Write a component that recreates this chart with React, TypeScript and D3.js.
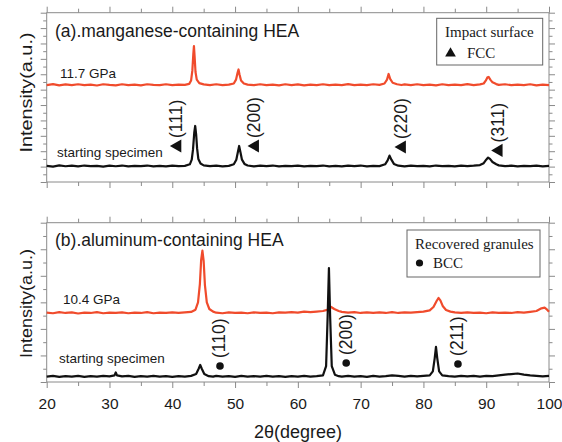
import React, { useEffect, useRef } from "react";
import * as d3 from "d3";

// 2θ axis ticks
const xTicks = [20, 30, 40, 50, 60, 70, 80, 90, 100];
const xMinorTicks = [25, 35, 45, 55, 65, 75, 85, 95];

// (a) manganese-containing HEA  -- intensity a.u., panel spans 0..22
const mnImpact = [
  [20, 12.6], [21, 12.72], [22, 12.55], [23, 12.68], [24, 12.58], [25, 12.7], [26, 12.6], [27, 12.66],
  [28, 12.54], [29, 12.7], [30, 12.62], [31, 12.56], [32, 12.7], [33, 12.6], [34, 12.66], [35, 12.55],
  [36, 12.7], [37, 12.62], [38, 12.58], [39, 12.7], [40, 12.6], [41, 12.66], [42, 12.62], [42.7, 12.75],
  [43.0, 13.2], [43.2, 14.5], [43.35, 16.6], [43.45, 17.67], [43.55, 16.4], [43.7, 14.3], [43.9, 13.3],
  [44.3, 12.85], [45, 12.68], [46, 12.6], [47, 12.7], [48, 12.58], [49, 12.66], [49.8, 12.8], [50.15, 13.3],
  [50.4, 14.2], [50.55, 14.62], [50.7, 14.0], [50.95, 13.2], [51.4, 12.8], [52, 12.66], [53, 12.58],
  [54, 12.7], [55, 12.6], [56, 12.66], [57, 12.56], [58, 12.7], [59, 12.6], [60, 12.68], [61, 12.56],
  [62, 12.66], [63, 12.6], [64, 12.7], [65, 12.58], [66, 12.66], [67, 12.6], [68, 12.72], [69, 12.58],
  [70, 12.66], [71, 12.6], [72, 12.7], [73, 12.62], [73.8, 12.8], [74.2, 13.3], [74.45, 14.04], [74.7, 13.4],
  [75.1, 12.9], [75.8, 12.7], [76.5, 12.6], [77, 12.68], [78, 12.58], [79, 12.7], [80, 12.6], [81, 12.66],
  [82, 12.56], [83, 12.7], [84, 12.6], [85, 12.66], [86, 12.58], [87, 12.72], [88, 12.6], [89, 12.68],
  [89.6, 12.8], [89.95, 13.2], [90.2, 13.6], [90.4, 13.65], [90.65, 13.3], [91.0, 12.95], [91.6, 12.72],
  [92, 12.62], [93, 12.7], [94, 12.58], [95, 12.66], [96, 12.6], [97, 12.7], [98, 12.56], [99, 12.66], [100, 12.6],
];
const mnStart = [
  [20, 2.1], [21, 2.0], [22, 2.15], [23, 2.05], [24, 2.12], [25, 2.02], [26, 2.14], [27, 2.06], [28, 2.1],
  [29, 2.0], [30, 2.12], [31, 2.05], [32, 2.14], [33, 2.02], [34, 2.1], [35, 2.06], [36, 2.14], [37, 2.04],
  [38, 2.1], [39, 2.02], [40, 2.12], [41, 2.06], [42, 2.1], [42.8, 2.3], [43.1, 2.9], [43.3, 4.2], [43.5, 6.4],
  [43.65, 7.28], [43.8, 6.2], [43.95, 4.4], [44.15, 3.0], [44.5, 2.4], [45, 2.16], [46, 2.06], [47, 2.12],
  [48, 2.04], [49, 2.1], [49.8, 2.3], [50.2, 2.9], [50.45, 3.9], [50.65, 4.68], [50.85, 3.9], [51.1, 2.9],
  [51.5, 2.35], [52, 2.14], [53, 2.04], [54, 2.12], [55, 2.06], [56, 2.14], [57, 2.02], [58, 2.1], [59, 2.06],
  [60, 2.12], [61, 2.04], [62, 2.1], [63, 2.06], [64, 2.14], [65, 2.04], [66, 2.1], [67, 2.02], [68, 2.12],
  [69, 2.06], [70, 2.14], [71, 2.04], [72, 2.1], [73, 2.06], [73.9, 2.3], [74.3, 2.8], [74.6, 3.43], [74.9, 2.9],
  [75.3, 2.35], [76, 2.12], [77, 2.04], [78, 2.12], [79, 2.06], [80, 2.1], [81, 2.02], [82, 2.14], [83, 2.06],
  [84, 2.1], [85, 2.04], [86, 2.12], [87, 2.06], [88, 2.12], [89, 2.2], [89.6, 2.45], [90.0, 2.9], [90.3, 3.17],
  [90.6, 3.0], [91.0, 2.6], [91.6, 2.3], [92, 2.16], [93, 2.06], [94, 2.12], [95, 2.04], [96, 2.1], [97, 2.06],
  [98, 2.12], [99, 2.04], [100, 2.1],
];

// (b) aluminum-containing HEA  -- panel spans 0..12
const alImpact = [
  [20, 5.22], [21, 5.18], [22, 5.26], [23, 5.2], [24, 5.24], [25, 5.16], [26, 5.22], [27, 5.2], [28, 5.26],
  [29, 5.18], [30, 5.22], [31, 5.2], [32, 5.24], [33, 5.18], [34, 5.22], [35, 5.2], [36, 5.26], [37, 5.18],
  [38, 5.22], [39, 5.2], [40, 5.24], [41, 5.2], [42, 5.24], [43, 5.28], [43.7, 5.45], [44.1, 6.0], [44.4, 7.4],
  [44.6, 9.2], [44.8, 9.89], [45.0, 9.1], [45.2, 7.3], [45.5, 6.0], [45.9, 5.5], [46.5, 5.3], [47, 5.22],
  [48, 5.18], [49, 5.24], [50, 5.2], [51, 5.22], [52, 5.18], [53, 5.24], [54, 5.2], [55, 5.22], [56, 5.18],
  [57, 5.24], [58, 5.22], [59, 5.26], [60, 5.22], [61, 5.3], [62, 5.26], [63, 5.3], [64, 5.35], [64.8, 5.45],
  [65.3, 5.65], [65.8, 5.5], [66.5, 5.35], [67, 5.28], [68, 5.22], [69, 5.26], [70, 5.2], [71, 5.24], [72, 5.2],
  [73, 5.24], [74, 5.2], [75, 5.26], [76, 5.2], [77, 5.24], [78, 5.22], [79, 5.26], [80, 5.3], [81, 5.4],
  [81.6, 5.65], [82.1, 6.1], [82.4, 6.33], [82.7, 6.15], [83.1, 5.7], [83.6, 5.42], [84.3, 5.3], [85, 5.24],
  [86, 5.2], [87, 5.24], [88, 5.2], [89, 5.22], [90, 5.18], [91, 5.24], [92, 5.2], [93, 5.22], [94, 5.2],
  [95, 5.26], [96, 5.22], [97, 5.28], [98, 5.35], [98.8, 5.55], [99.3, 5.6], [99.7, 5.45], [100, 5.3],
];
const alStart = [
  [20, 0.4], [21, 0.46], [22, 0.38], [23, 0.44], [24, 0.4], [25, 0.46], [26, 0.38], [27, 0.44], [28, 0.4],
  [29, 0.46], [30, 0.42], [30.8, 0.5], [31.0, 0.72], [31.2, 0.5], [32, 0.42], [33, 0.46], [34, 0.38], [35, 0.44],
  [36, 0.4], [37, 0.46], [38, 0.4], [39, 0.44], [40, 0.38], [41, 0.44], [42, 0.4], [43, 0.46], [43.8, 0.6],
  [44.2, 1.0], [44.45, 1.28], [44.7, 1.0], [45.1, 0.6], [45.8, 0.44], [46.5, 0.4], [47, 0.46], [48, 0.4],
  [49, 0.44], [50, 0.38], [51, 0.46], [52, 0.4], [53, 0.44], [54, 0.4], [55, 0.46], [56, 0.4], [57, 0.44],
  [58, 0.38], [59, 0.44], [60, 0.4], [61, 0.46], [62, 0.4], [63, 0.44], [64.0, 0.5], [64.5, 1.2], [64.75, 5.0],
  [64.95, 8.58], [65.15, 4.8], [65.4, 1.2], [65.9, 0.55], [66.5, 0.44], [67, 0.4], [68, 0.46], [69, 0.4],
  [70, 0.44], [71, 0.38], [72, 0.46], [73, 0.4], [74, 0.44], [75, 0.5], [76, 0.46], [77, 0.4], [78, 0.46],
  [79, 0.42], [80, 0.46], [81, 0.5], [81.5, 0.8], [81.8, 1.8], [82.0, 2.64], [82.2, 1.8], [82.5, 0.8], [83, 0.5],
  [84, 0.44], [85, 0.4], [86, 0.46], [87, 0.42], [88, 0.46], [89, 0.4], [90, 0.46], [91, 0.44], [92, 0.5],
  [93, 0.56], [94, 0.6], [95, 0.64], [96, 0.56], [97, 0.5], [98, 0.46], [99, 0.42], [100, 0.46],
];

// peak index labels (marker position in 2θ / intensity units)
const fccLabels = [
  { hkl: "(111)", twoTheta: 40.83, level: 4.68 },
  { hkl: "(200)", twoTheta: 53.2, level: 4.68 },
  { hkl: "(220)", twoTheta: 76.6, level: 4.55 },
  { hkl: "(311)", twoTheta: 92.0, level: 4.1 },
];
const bccLabels = [
  { hkl: "(110)", twoTheta: 47.6, level: 1.2 },
  { hkl: "(200)", twoTheta: 67.7, level: 1.43 },
  { hkl: "(211)", twoTheta: 85.5, level: 1.36 },
];

const RED = "#f04b2c";
const INK = "#111";
const FRAME = "#8a8a8a";
const SANS = "'Liberation Sans', Arial, Helvetica, sans-serif";
const SERIF = "'Liberation Serif', 'Times New Roman', serif";

const App = () => {
  const ref = useRef(null);

  useEffect(() => {
    const svg = d3.select(ref.current);
    svg.selectAll("*").remove();

    const x = d3.scaleLinear().domain([20, 100]).range([46.7, 549]);
    const yTop = d3.scaleLinear().domain([0, 22]).range([182, 12.7]);
    const yBot = d3.scaleLinear().domain([0, 12]).range([382, 222.7]);

    const drawFrame = (y, yMax, labels) => {
      const g = svg.append("g");
      const [x0, x1] = x.range();
      const yb = y(0);
      const yt = y(yMax);

      const styleAxis = (sel) => {
        sel.select(".domain").remove();
        sel.selectAll(".tick line").attr("stroke", FRAME);
      };

      // x ticks, bottom and top
      g.append("g").attr("transform", `translate(0,${yb})`)
        .call(d3.axisBottom(x).tickValues(xTicks).tickSize(6).tickPadding(10)
          .tickFormat(labels ? d3.format("d") : () => ""))
        .call(styleAxis)
        .call((a) => a.selectAll("text").attr("font-size", 15.5).attr("font-family", SANS).attr("fill", "#1a1a1a"));
      g.append("g").attr("transform", `translate(0,${yb})`)
        .call(d3.axisBottom(x).tickValues(xMinorTicks).tickSize(4).tickFormat(() => ""))
        .call(styleAxis);
      g.append("g").attr("transform", `translate(0,${yt})`)
        .call(d3.axisTop(x).tickValues(xTicks).tickSize(6).tickFormat(() => ""))
        .call(styleAxis);
      g.append("g").attr("transform", `translate(0,${yt})`)
        .call(d3.axisTop(x).tickValues(xMinorTicks).tickSize(4).tickFormat(() => ""))
        .call(styleAxis);

      // y ticks, left and right (no labels)
      const major = d3.range(0, yMax + 1, 2);
      const minor = d3.range(1, yMax, 2);
      g.append("g").attr("transform", `translate(${x0},0)`)
        .call(d3.axisLeft(y).tickValues(major).tickSize(6).tickFormat(() => "")).call(styleAxis);
      g.append("g").attr("transform", `translate(${x0},0)`)
        .call(d3.axisLeft(y).tickValues(minor).tickSize(3.5).tickFormat(() => "")).call(styleAxis);
      g.append("g").attr("transform", `translate(${x1},0)`)
        .call(d3.axisRight(y).tickValues(major).tickSize(6).tickFormat(() => "")).call(styleAxis);
      g.append("g").attr("transform", `translate(${x1},0)`)
        .call(d3.axisRight(y).tickValues(minor).tickSize(3.5).tickFormat(() => "")).call(styleAxis);

      g.append("rect")
        .attr("x", x0).attr("y", yt)
        .attr("width", x1 - x0).attr("height", yb - yt)
        .attr("fill", "none").attr("stroke", FRAME).attr("stroke-width", 1);
    };

    const drawPattern = (y, data, color) => {
      const line = d3.line().x((d) => x(d[0])).y((d) => y(d[1]));
      svg.append("path")
        .datum(data)
        .attr("d", line)
        .attr("fill", "none")
        .attr("stroke", color)
        .attr("stroke-width", 2.2)
        .attr("stroke-linejoin", "round");
    };

    const text = (tx, ty, str, size, opts = {}) =>
      svg.append("text")
        .attr("x", tx).attr("y", ty)
        .attr("font-family", opts.family || SANS)
        .attr("font-size", size)
        .attr("fill", opts.fill || "#1a1a1a")
        .attr("text-anchor", opts.anchor || "start")
        .text(str);

    // ---------- panel (a)
    drawFrame(yTop, 22, false);
    drawPattern(yTop, mnImpact, RED);
    drawPattern(yTop, mnStart, INK);

    text(55, 37, "(a).manganese-containing HEA", 17.5);
    text(60, 78, "11.7 GPa", 13.5);
    text(57, 157, "starting specimen", 13.5);

    fccLabels.forEach((d) => {
      const g = svg.append("g")
        .attr("transform", `translate(${x(d.twoTheta)},${yTop(d.level)}) rotate(-90)`);
      g.append("path")
        .attr("d", d3.symbol(d3.symbolTriangle, 75)())
        .attr("fill", INK);
      g.append("text")
        .attr("x", 8).attr("y", 5)
        .attr("font-family", SANS).attr("font-size", 17.5).attr("fill", "#1a1a1a")
        .text(d.hkl);
    });

    // legend (a)
    svg.append("rect").attr("x", 436.7).attr("y", 18.3).attr("width", 106).attr("height", 46.7)
      .attr("fill", "white").attr("stroke", "#666").attr("stroke-width", 1);
    text(445, 37, "Impact surface", 15, { family: SERIF });
    svg.append("path")
      .attr("transform", "translate(450.5,53.5)")
      .attr("d", d3.symbol(d3.symbolTriangle, 50)())
      .attr("fill", INK);
    text(467, 57.5, "FCC", 15, { family: SERIF });

    // ---------- panel (b)
    drawFrame(yBot, 12, true);
    drawPattern(yBot, alImpact, RED);
    drawPattern(yBot, alStart, INK);

    text(55, 246, "(b).aluminum-containing HEA", 17.5);
    text(63, 304, "10.4 GPa", 13.5);
    text(59, 363, "starting specimen", 13.5);

    bccLabels.forEach((d) => {
      const g = svg.append("g")
        .attr("transform", `translate(${x(d.twoTheta)},${yBot(d.level)}) rotate(-90)`);
      g.append("circle").attr("r", 3.8).attr("fill", INK);
      g.append("text")
        .attr("x", 8).attr("y", 5.5)
        .attr("font-family", SANS).attr("font-size", 17.5).attr("fill", "#1a1a1a")
        .text(d.hkl);
    });

    // legend (b)
    svg.append("rect").attr("x", 407).attr("y", 230).attr("width", 133).attr("height", 47)
      .attr("fill", "white").attr("stroke", "#666").attr("stroke-width", 1);
    text(415, 248.5, "Recovered granules", 15, { family: SERIF });
    svg.append("circle").attr("cx", 419.5).attr("cy", 263).attr("r", 3.6).attr("fill", INK);
    text(433, 267.5, "BCC", 15, { family: SERIF });

    // axis titles
    text(298, 438, "2θ(degree)", 18, { anchor: "middle" });
    [
      [92.5, 120],
      [303.5, 109],
    ].forEach(([cy, len]) => {
      svg.append("text")
        .attr("transform", `translate(32,${cy}) rotate(-90)`)
        .attr("font-family", SANS).attr("font-size", 17)
        .attr("fill", "#1a1a1a")
        .attr("text-anchor", "middle")
        .attr("textLength", len)
        .attr("lengthAdjust", "spacingAndGlyphs")
        .text("Intensity(a.u.)");
    });
  }, []);

  return (
    <svg
      ref={ref}
      width={562}
      height={442}
      style={{ position: "absolute", left: 0, top: 0, background: "white" }}
    />
  );
};

export default App;
